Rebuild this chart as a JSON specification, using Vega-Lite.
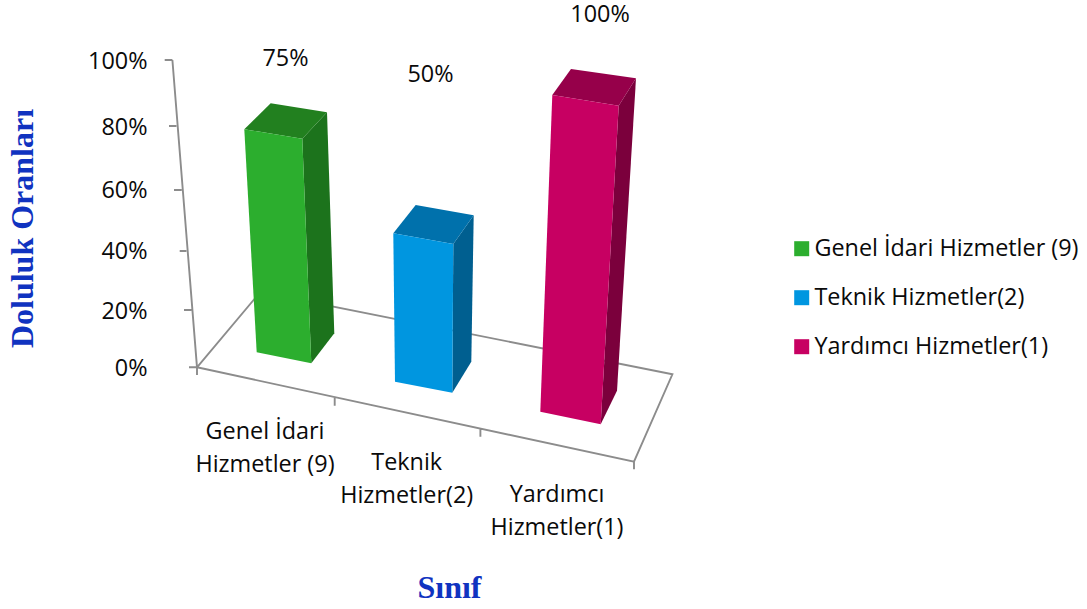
{"$schema":"https://vega.github.io/schema/vega-lite/v6.json","width":1087,"height":609,"padding":0,"autosize":"none","background":"white","config":{"view":{"stroke":null},"text":{"font":"Open Sans"}},
"data":{"values":[
{"category":"Genel İdari Hizmetler (9)","value":0.75,"tick":"Genel İdari\nHizmetler (9)"},
{"category":"Teknik Hizmetler(2)","value":0.5,"tick":"Teknik\nHizmetler(2)"},
{"category":"Yardımcı Hizmetler(1)","value":1,"tick":"Yardımcı\nHizmetler(1)"}]},
"encoding":{
"x":{"field":"category","type":"nominal","sort":null,"scale":{"type":"point","padding":0,"domain":["Genel İdari Hizmetler (9)","Teknik Hizmetler(2)","Yardımcı Hizmetler(1)"],"range":[244,552]},"axis":{"title":"Sınıf","labels":false,"ticks":false,"domain":false,"grid":false,"titleFont":"Liberation Serif","titleFontWeight":"bold","titleFontSize":32,"titleColor":"#1033C0","titleX":449,"titleY":-22,"titleAlign":"center","titleBaseline":"middle"}},
"y":{"field":"value","type":"quantitative","scale":{"domain":[0,0.2,0.4,0.6,0.8,1],"range":[367,310,250,189,126,60],"nice":false,"zero":false},"axis":{"title":"Doluluk Oranları","values":[0,0.2,0.4,0.6,0.8,1],"format":".0%","offset":-147,"grid":false,"domain":false,"ticks":false,"labelPadding":0,"labelOffset":1.5,"labelFont":"Open Sans","labelFontSize":23.4,"labelColor":"#0A0A0A","titleFont":"Liberation Serif","titleFontWeight":"bold","titleFontSize":32,"titleColor":"#1033C0","titleAngle":270,"titleX":-125,"titleY":228,"titleAlign":"center","titleBaseline":"middle"}}
},
"layer":[
{"transform":[{"filter":"datum.category === 'Genel İdari Hizmetler (9)'"}],
"mark":{"type":"point","size":4,"filled":false,"stroke":"#8C8C8C","strokeWidth":1.9,"opacity":1,"shape":"M-71.6,-307L-47,0.3M-79.3,-307L-71.6,-307M-75,-241L-67.6,-241M-70,-177L-62.3,-177M-64.3,-116L-57.6,-116M-60,-57L-52.6,-57M-55,0.3L-47,0.3M-47,0.3L-47,8M-47,0.3L390,94.7L428.4,7.3L16.3,-75L-47,0.3M390,94.7L390,102.3M90.7,30.7L90.7,38.7M236.4,62.3L236.4,69.7"},
"encoding":{"y":{"datum":0,"type":"quantitative"}}},
{"mark":{"type":"point","size":4,"filled":true,"opacity":1,"strokeWidth":0},
"encoding":{"color":{"field":"category","type":"nominal","legend":null,"scale":{"range":["#1C731C","#005F90","#7B003C"]}},
"shape":{"field":"category","type":"nominal","legend":null,"scale":{"range":["M58.3,-3.05L83,-29.45L90.3,191.55L67.3,221.55Z","M55.3,24.5L75.7,-4.2L73.3,142.2L54.3,173.2Z","M66.7,45.7L84,18.3L65,330.7L48.7,364.3Z"]}}}},
{"mark":{"type":"point","size":4,"filled":true,"opacity":1,"strokeWidth":0},
"encoding":{"color":{"field":"category","type":"nominal","legend":null,"scale":{"range":["#22801F","#0071AC","#96004A"]}},
"shape":{"field":"category","type":"nominal","legend":null,"scale":{"range":["M0.3,-12.45L26.7,-38.45L83,-29.45L58.3,-3.05Z","M-4.7,13.8L17.7,-14.5L75.7,-4.2L55.3,24.5Z","M0.3,35L19,9L84,18.3L66.7,45.7Z"]}}}},
{"mark":{"type":"point","size":4,"filled":true,"opacity":1,"strokeWidth":0},
"encoding":{"color":{"field":"category","type":"nominal","sort":null,"scale":{"range":["#2CAE2E","#0096E0","#C70062"]},"legend":{"title":null,"orient":"none","legendX":790,"legendY":237,"padding":0,"symbolType":"square","symbolSize":225,"symbolStrokeWidth":0,"symbolOpacity":1,"labelFont":"Open Sans","labelFontSize":23.4,"labelColor":"#0A0A0A","rowPadding":24,"labelOffset":1,"labelLimit":320}},
"shape":{"field":"category","type":"nominal","legend":null,"scale":{"range":["M0.3,-12.45L58.3,-3.05L67.3,221.55L12.7,210.55Z","M-4.7,13.8L55.3,24.5L54.3,173.2L-3,162.2Z","M0.3,35L66.7,45.7L48.7,364.3L-11.7,351.7Z"]}}}},
{"transform":[{"filter":"datum.value === 0.75"}],"mark":{"type":"text","font":"Open Sans","fontSize":23.4,"color":"#0A0A0A","align":"center","baseline":"middle","dx":41.5,"dy":-83},"encoding":{"text":{"field":"value","format":".0%"}}},
{"transform":[{"filter":"datum.value === 0.5"}],"mark":{"type":"text","font":"Open Sans","fontSize":23.4,"color":"#0A0A0A","align":"center","baseline":"middle","dx":32.5,"dy":-145},"encoding":{"text":{"field":"value","format":".0%"}}},
{"transform":[{"filter":"datum.value === 1"}],"mark":{"type":"text","font":"Open Sans","fontSize":23.4,"color":"#0A0A0A","align":"center","baseline":"middle","dx":48,"dy":-45},"encoding":{"text":{"field":"value","format":".0%"}}},
{"transform":[{"filter":"datum.value === 0.75"}],"mark":{"type":"text","font":"Open Sans","fontSize":23.4,"color":"#0A0A0A","align":"center","baseline":"middle","lineBreak":"\n","lineHeight":33,"dx":21,"dy":64.5},"encoding":{"y":{"datum":0,"type":"quantitative"},"text":{"field":"tick"}}},
{"transform":[{"filter":"datum.value === 0.5"}],"mark":{"type":"text","font":"Open Sans","fontSize":23.4,"color":"#0A0A0A","align":"center","baseline":"middle","lineBreak":"\n","lineHeight":33,"dx":8.7,"dy":95.5},"encoding":{"y":{"datum":0,"type":"quantitative"},"text":{"field":"tick"}}},
{"transform":[{"filter":"datum.value === 1"}],"mark":{"type":"text","font":"Open Sans","fontSize":23.4,"color":"#0A0A0A","align":"center","baseline":"middle","lineBreak":"\n","lineHeight":33,"dx":5,"dy":127.5},"encoding":{"y":{"datum":0,"type":"quantitative"},"text":{"field":"tick"}}}
],
"resolve":{"scale":{"color":"independent","shape":"independent"},"legend":{"color":"independent"}}}
